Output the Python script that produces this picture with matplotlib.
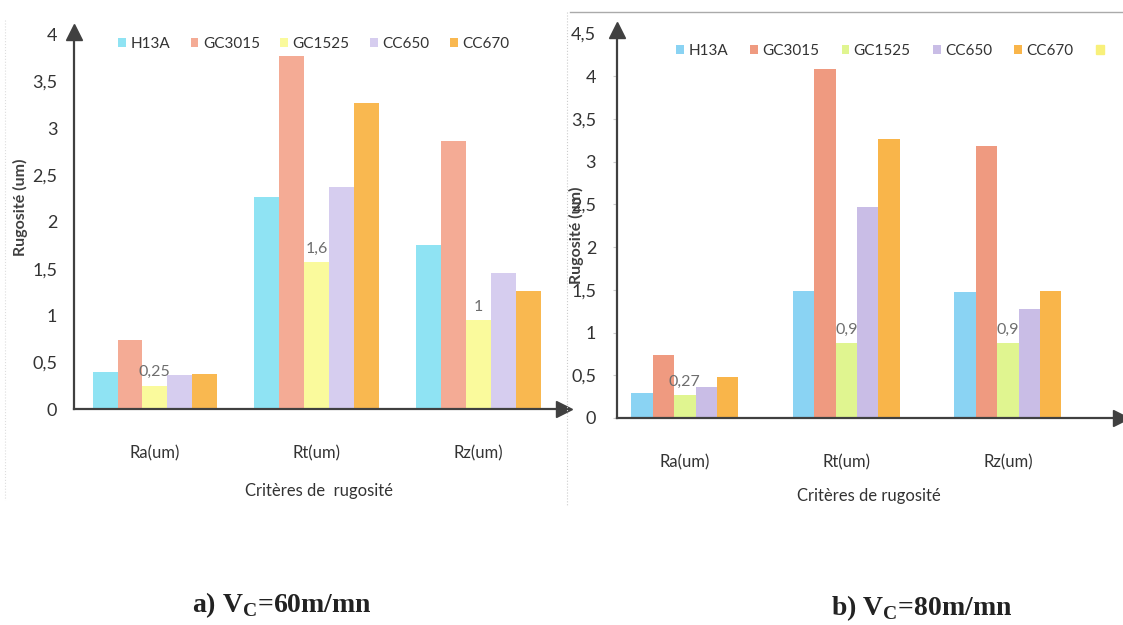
import numpy as np
import matplotlib.pyplot as plt
from matplotlib.lines import Line2D
from matplotlib.patches import Patch

plt.rcParams['font.family'] = ['Lato', 'DejaVu Sans']
plt.rcParams['mathtext.fontset'] = 'custom'
plt.rcParams['mathtext.rm'] = 'Liberation Serif'
plt.rcParams['mathtext.bf'] = 'Liberation Serif:bold'

# Datos
criterios = ['Ra(um)', 'Rt(um)', 'Rz(um)']
outils = ['H13A', 'GC3015', 'GC1525', 'CC650', 'CC670']

# a) Vc = 60 m/mn  (una lista por herramienta: Ra, Rt, Rz)
h13a_60 = [0.40, 2.27, 1.75]
gc3015_60 = [0.74, 3.77, 2.86]
gc1525_60 = [0.25, 1.57, 0.95]
cc650_60 = [0.36, 2.37, 1.45]
cc670_60 = [0.37, 3.27, 1.26]
etiquetas_60 = ['0,25', '1,6', '1']

# b) Vc = 80 m/mn
h13a_80 = [0.29, 1.49, 1.47]
gc3015_80 = [0.74, 4.08, 3.18]
gc1525_80 = [0.27, 0.88, 0.88]
cc650_80 = [0.36, 2.47, 1.28]
cc670_80 = [0.48, 3.27, 1.49]
etiquetas_80 = ['0,27', '0,9', '0,9']

ticks_60 = [0, 0.5, 1, 1.5, 2, 2.5, 3, 3.5, 4]
ticks_80 = [0, 0.5, 1, 1.5, 2, 2.5, 3, 3.5, 4, 4.5]

colores_60 = ['#8fe3f3', '#f4ab95', '#fafa9c', '#d6cdef', '#f9b850']
colores_80 = ['#8ad3f3', '#ef9a80', '#e0f590', '#c9bde6', '#f9b54a']

GRIS = '#404040'


def coma(v):
    s = ('%g' % v).replace('.', ',')
    return s


def graficar_panel(ax, series, colores, etiquetas, ticks, ancho, xlim, ylim, tick_len):
    x = np.arange(len(criterios))
    barras = []
    for i, (valores, color) in enumerate(zip(series, colores)):
        b = ax.bar(x + (i - 2) * ancho, valores, ancho, color=color, linewidth=0)
        barras.append(b)

    # etiquetas sobre las barras de GC1525
    for xi, v, txt in zip(x, series[2], etiquetas):
        ax.text(xi, v + 0.07, txt, ha='center', va='bottom', fontsize=11.5,
                color='#6e6e6e')

    ax.set_xlim(*xlim)
    ax.set_ylim(*ylim)
    ax.set_yticks(ticks)
    ax.set_yticklabels([coma(t) for t in ticks])
    ax.set_xticks(x)
    ax.set_xticklabels(criterios)
    ax.tick_params(axis='y', length=tick_len, color='#cccccc', pad=12,
                   labelsize=13, labelcolor='#333333')
    ax.tick_params(axis='x', length=0, pad=26, labelsize=12, labelcolor='#333333')

    for lado in ['top', 'right']:
        ax.spines[lado].set_visible(False)
    for lado in ['left', 'bottom']:
        ax.spines[lado].set_color(GRIS)
        ax.spines[lado].set_linewidth(1.6)

    # flechas de los ejes
    ax.plot(1, 0, '>', color=GRIS, markersize=11, transform=ax.transAxes, clip_on=False)
    ax.plot(0, 1, '^', color=GRIS, markersize=11, transform=ax.transAxes, clip_on=False)
    return barras


fig = plt.figure(figsize=(11.23, 6.25), dpi=100)

ax1 = fig.add_axes([74 / 1123, 216 / 625, 490 / 1123, 377 / 625])
b1 = graficar_panel(ax1, [h13a_60, gc3015_60, gc1525_60, cc650_60, cc670_60],
                    colores_60, etiquetas_60, ticks_60, 0.154, (-0.5, 2.53), (0, 4.03), 0)
ax1.set_xlabel('Critères de  rugosité', fontsize=12, color='#333333', labelpad=16)

ax2 = fig.add_axes([617 / 1123, 207 / 625, 504 / 1123, 388 / 625])
b2 = graficar_panel(ax2, [h13a_80, gc3015_80, gc1525_80, cc650_80, cc670_80],
                    colores_80, etiquetas_80, ticks_80, 0.1325, (-0.42, 2.70), (0, 4.54), 3)
ax2.set_xlabel('Critères de rugosité', fontsize=12, color='#333333', labelpad=13)

# leyendas
fig.legend([b[0] for b in b1], outils, loc='center left',
           bbox_to_anchor=(118 / 1123, 1 - 44 / 625), ncol=5, frameon=False,
           fontsize=11, handlelength=0.5, handleheight=0.5, handletextpad=0.3,
           columnspacing=1.35, borderpad=0, borderaxespad=0, labelcolor='#333333')
manijas = [b[0] for b in b2] + [Patch(color='#f8f07a')]
fig.legend(manijas, outils + [''], loc='center left',
           bbox_to_anchor=(676 / 1123, 1 - 51 / 625), ncol=6, frameon=False,
           fontsize=11, handlelength=0.5, handleheight=0.5, handletextpad=0.3,
           columnspacing=1.45, borderpad=0, borderaxespad=0, labelcolor='#333333')

fig.text(20 / 1123, 1 - 207 / 625, 'Rugosité (um)', rotation=90, ha='center', va='center',
         fontsize=11.5, fontweight='bold', color='#404040')
fig.text(576 / 1123, 1 - 235 / 625, 'Rugosité (um)', rotation=90, ha='center', va='center',
         fontsize=11.5, fontweight='bold', color='#404040')

# titulos de los paneles
fig.text(282 / 1123, 1 - 605 / 625, r'a) V$_{\mathbf{C}}$=60m/mn', ha='center',
         va='center', fontsize=20, color='#222222', family='Liberation Serif',
         fontweight='bold')
fig.text(922 / 1123, 1 - 608 / 625, r'b) V$_{\mathbf{C}}$=80m/mn', ha='center',
         va='center', fontsize=20, color='#222222', family='Liberation Serif',
         fontweight='bold')

# bordes del escaneo
fig.add_artist(Line2D([570 / 1123, 1], [1 - 12 / 625, 1 - 12 / 625], color='#aaaaaa', lw=1))
fig.add_artist(Line2D([567 / 1123, 567 / 1123], [1 - 12 / 625, 1 - 505 / 625],
                      color='#cccccc', lw=0.8, ls=':'))
fig.add_artist(Line2D([5 / 1123, 5 / 1123], [1 - 20 / 625, 1 - 500 / 625],
                      color='#dddddd', lw=0.8, ls=':'))

fig.savefig('out.png', dpi=100)
